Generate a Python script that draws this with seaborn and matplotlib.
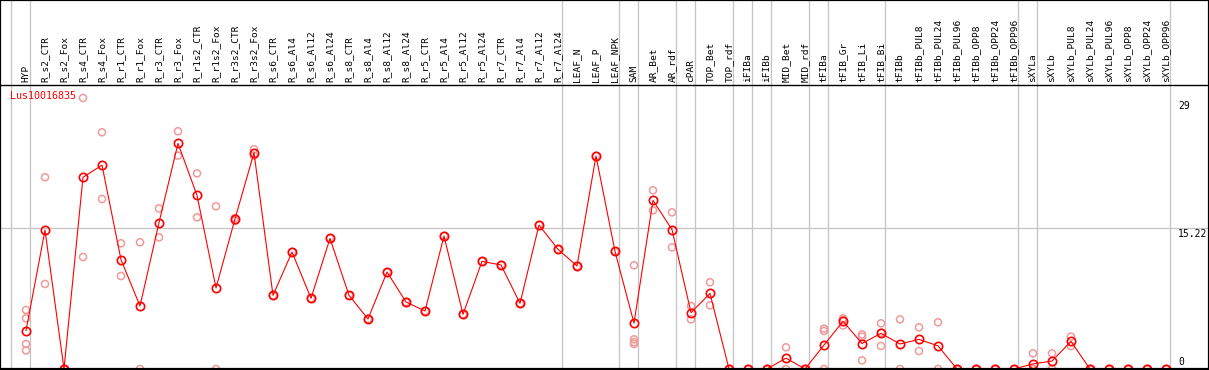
import numpy as np
import pandas as pd
import matplotlib
matplotlib.use("Agg")
import matplotlib.pyplot as plt
import matplotlib.transforms as mtransforms
import seaborn as sns

# ── Data ──────────────────────────────────────────────────────────────────────
GENE = "Lus10016835"

SAMPLES = [
    "HYP",
    "R_s2_CTR", "R_s2_Fox", "R_s4_CTR", "R_s4_Fox", "R_r1_CTR", "R_r1_Fox",
    "R_r3_CTR", "R_r3_Fox", "R_r1s2_CTR", "R_r1s2_Fox", "R_r3s2_CTR", "R_r3s2_Fox",
    "R_s6_CTR", "R_s6_Al4", "R_s6_Al12", "R_s6_Al24",
    "R_s8_CTR", "R_s8_Al4", "R_s8_Al12", "R_s8_Al24",
    "R_r5_CTR", "R_r5_Al4", "R_r5_Al12", "R_r5_Al24",
    "R_r7_CTR", "R_r7_Al4", "R_r7_Al12", "R_r7_Al24",
    "LEAF_N", "LEAF_P", "LEAF_NPK", "SAM", "AR_Bet", "AR_rdf", "cPAR",
    "TOP_Bet", "TOP_rdf", "iFIBa", "iFIBb", "MID_Bet", "MID_rdf",
    "tFIBa", "tFIB_Gr", "tFIB_Li", "tFIB_Bi", "tFIBb",
    "tFIBb_PUL8", "tFIBb_PUL24", "tFIBb_PUL96", "tFIBb_OPP8", "tFIBb_OPP24", "tFIBb_OPP96",
    "sXYLa", "sXYLb",
    "sXYLb_PUL8", "sXYLb_PUL24", "sXYLb_PUL96", "sXYLb_OPP8", "sXYLb_OPP24", "sXYLb_OPP96",
]

MEANS = [
    4.13,
    15.0, 0.0, 20.7, 22.0, 11.8, 6.8,
    15.8, 24.35, 18.75, 8.75, 16.2, 23.35,
    7.95, 12.63, 7.63, 14.1,
    7.95, 5.4, 10.47, 7.23,
    6.26, 14.36, 5.9, 11.62,
    11.23, 7.09, 15.54, 12.92,
    11.12, 23.0, 12.7, 4.95, 18.2, 15.05, 6.08,
    8.15, 0.0, 0.0, 0.0, 1.17, 0.0,
    2.58, 5.15, 2.75, 3.85, 2.7,
    3.2, 2.5, 0.0, 0.0, 0.0, 0.0,
    0.55, 0.86,
    2.98, 0.0, 0.0, 0.0, 0.0, 0.0,
]

REPLICATES = [
    [6.37, 5.47, 2.7, 2.0],
    [20.7, 9.18], [0, 0], [29.25, 12.09], [25.55, 18.35], [13.57, 10.04], [13.68, 0],
    [17.34, 14.21], [25.66, 23.03], [21.12, 16.37], [17.56, 0], [16.3, 16.0], [23.71, 23.03],
    [7.95], [12.63], [7.63], [14.1],
    [7.95], [5.4], [10.47], [7.23],
    [6.26], [14.36], [5.9], [11.62],
    [11.23], [7.09], [15.54], [12.92],
    [11.12], [23.0], [12.7], [11.2, 3.2, 2.9, 2.7], [19.29, 17.13], [16.91, 13.13], [6.8, 5.36],
    [9.36, 6.87], [0, 0], [0, 0], [0, 0], [2.34, 0], [0, 0],
    [4.35, 4.1, 0], [5.47, 5.29, 4.7], [3.74, 3.49, 0.93], [4.93, 3.92, 2.48], [5.36, 0],
    [4.5, 1.94], [5.04, 0], [0, 0], [0, 0], [0, 0], [0, 0],
    [1.69, 0, 0], [1.69, 0],
    [3.49, 2.48], [0, 0], [0, 0], [0, 0], [0, 0], [0, 0],
]

# last sample of each group (group separators)
GROUP_ENDS = [-1, 0, 28, 31, 32, 34, 35, 37, 38, 39, 41, 42, 45, 52, 53, 60]

Y_TICKS = [0, 15.22, 29]
Y_TICK_LABELS = ["0", "15.22", "29"]

# ── Style ─────────────────────────────────────────────────────────────────────
sns.set_style("white")
plt.rcParams["font.family"] = ["DejaVu Sans Mono"]

MEAN_RED = "#ff0000"
REP_PINK = "#f09a9a"
GRID_GRAY = "#c4c4c4"

W, H = 1209, 370
HEADER = 85          # px of rotated labels on top
X0, DX = 26, 19      # px of first sample, px between samples
PX_PER_UNIT = 141 / 15.22

# ── Figure ────────────────────────────────────────────────────────────────────
fig = plt.figure(figsize=(W / 100, H / 100), dpi=100)
ax = fig.add_axes([0, 0, 1, (H - HEADER) / H])

x = np.arange(len(SAMPLES))
rep_df = pd.DataFrame(
    [(i, v) for i, reps in enumerate(REPLICATES) for v in reps],
    columns=["idx", "expr"],
)
mean_df = pd.DataFrame({"idx": x, "expr": MEANS})

sns.scatterplot(
    data=rep_df, x="idx", y="expr", ax=ax, marker="o", s=26,
    facecolors="none", edgecolors=REP_PINK, linewidth=1.1, zorder=3,
)
sns.lineplot(
    data=mean_df, x="idx", y="expr", ax=ax, color=MEAN_RED, lw=0.8,
    marker="o", markersize=6, markerfacecolor="none",
    markeredgecolor=MEAN_RED, markeredgewidth=1.2, zorder=4,
)

# axis limits so that sample i sits at X0 + DX*i pixels
ax.set_xlim(-X0 / DX, (W - X0) / DX)
ax.set_ylim(-1 / PX_PER_UNIT, (H - 1 - HEADER) / PX_PER_UNIT)
ax.set_xticks([])
ax.set_yticks([])
ax.set_xlabel("")
ax.set_ylabel("")
for side in ["left", "right", "bottom"]:
    ax.spines[side].set_visible(False)
ax.spines["top"].set_color("black")
ax.spines["top"].set_linewidth(1.0)

# grid lines
ax.axhline(15.22, color=GRID_GRAY, lw=0.9, zorder=1)
ax.axhline(0, color="black", lw=1.6, zorder=5)
vtrans = mtransforms.blended_transform_factory(ax.transData, ax.transAxes)
for g in GROUP_ENDS:
    ax.plot([g + 0.21, g + 0.21], [0, H / (H - HEADER)], color=GRID_GRAY,
            lw=0.9, transform=vtrans, clip_on=False, zorder=1)

# rotated sample labels in the header
for i, name in enumerate(SAMPLES):
    ax.text(i, 1 + 3 / (H - HEADER), name, transform=vtrans, rotation=90,
            ha="center", va="bottom", fontsize=6.8, color="black", clip_on=False)

# right hand scale
for val, lab in zip(Y_TICKS, Y_TICK_LABELS):
    if val == 0:
        ax.text((1178 - X0) / DX, val + 2 / PX_PER_UNIT, lab, ha="left",
                va="bottom", fontsize=7, color="black")
    else:
        ax.text((1178 - X0) / DX, val - 1 / PX_PER_UNIT, lab, ha="left",
                va="top", fontsize=7, color="black")

# gene name
ax.text((10 - X0) / DX, 30.0, GENE, ha="left", va="top", fontsize=7.2,
        color=MEAN_RED)

# outer frame
fig.add_artist(plt.Rectangle((0, 0), 1, 1, transform=fig.transFigure,
                             fill=False, edgecolor="black", lw=1.6))

fig.savefig("out.png", dpi=100)
